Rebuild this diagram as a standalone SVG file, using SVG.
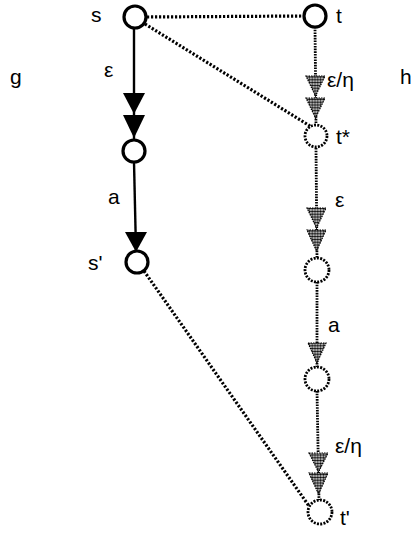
<svg xmlns="http://www.w3.org/2000/svg" width="417" height="535" viewBox="0 0 417 535">
<style>
.lbl{font-family:"Liberation Sans",Arial,sans-serif;font-size:21px;fill:#000}
.solidnode{fill:#fff;stroke:#000;stroke-width:3.2}
.dotnode{fill:#fff;stroke:#000;stroke-width:2.8;stroke-dasharray:2 1.3}
.solid{stroke:#000;stroke-width:2.4;fill:none}
.beads{stroke:#000;stroke-width:2.8;stroke-dasharray:1.6 1.1;fill:none}
.dotted{stroke:#000;stroke-width:3.2;stroke-dasharray:2.2 1.8;fill:none}
.blackhead{fill:#000}
.greyhead{fill:url(#dots);stroke:#000;stroke-width:1.2;stroke-dasharray:1.5 1}
</style>
<defs>
<pattern id="dots" width="2.8" height="2.8" patternUnits="userSpaceOnUse">
<rect width="2.8" height="2.8" fill="#fff"/>
<circle cx="1.4" cy="1.4" r="1.25" fill="#000"/>
</pattern>
</defs>
<g id="connectors">
<line class="dotted" x1="147" y1="17" x2="303" y2="16"/>
<line class="dotted" x1="145" y1="24" x2="310" y2="126"/>
<line class="dotted" x1="144" y1="271" x2="309" y2="506"/>
<line class="solid" x1="134" y1="28" x2="134" y2="140"/>
<polygon class="blackhead" points="123,93 145,93 134,114"/>
<polygon class="blackhead" points="123,115 145,115 134,138"/>
<line class="solid" x1="134" y1="162" x2="136" y2="251"/>
<polygon class="blackhead" points="125,232 147,232 136,252"/>
<line class="beads" x1="315" y1="27" x2="316" y2="124"/>
<polygon class="greyhead" points="306,76 325,76 315.5,96"/>
<polygon class="greyhead" points="306,98 325,98 315.5,118"/>
<line class="beads" x1="316" y1="148" x2="317" y2="258"/>
<polygon class="greyhead" points="307,208 326,208 316.5,228"/>
<polygon class="greyhead" points="307,230 326,230 316.5,251"/>
<line class="beads" x1="317" y1="282" x2="317" y2="367"/>
<polygon class="greyhead" points="308,343 326,343 317,363"/>
<line class="beads" x1="317" y1="391" x2="319" y2="500"/>
<polygon class="greyhead" points="309,453 328,453 318.5,472"/>
<polygon class="greyhead" points="309,473 328,473 318.5,494"/>
</g>
<g id="node-s"><circle class="solidnode" cx="135" cy="17" r="11"/><text class="lbl" x="91" y="22">s</text></g>
<g id="node-t"><circle class="solidnode" cx="315" cy="16" r="11"/><text class="lbl" x="336" y="23">t</text></g>
<g id="node-g1"><circle class="solidnode" cx="134" cy="151" r="11"/></g>
<g id="node-s2"><circle class="solidnode" cx="137" cy="262" r="11"/><text class="lbl" x="88" y="270">s'</text></g>
<g id="node-tstar"><circle class="dotnode" cx="316" cy="136" r="11"/><text class="lbl" x="336" y="144">t*</text></g>
<g id="node-h1"><circle class="dotnode" cx="317" cy="270" r="12"/></g>
<g id="node-h2"><circle class="dotnode" cx="317" cy="379" r="12"/></g>
<g id="node-t2"><circle class="dotnode" cx="320" cy="512" r="12"/><text class="lbl" x="340" y="525">t'</text></g>
<g id="labels">
<text class="lbl" x="10" y="84">g</text>
<text class="lbl" x="400" y="84">h</text>
<text class="lbl" x="104" y="77">ε</text>
<text class="lbl" x="327" y="87">ε/η</text>
<text class="lbl" x="108" y="204">a</text>
<text class="lbl" x="335" y="207">ε</text>
<text class="lbl" x="328" y="332">a</text>
<text class="lbl" x="335" y="453">ε/η</text>
</g>
</svg>
